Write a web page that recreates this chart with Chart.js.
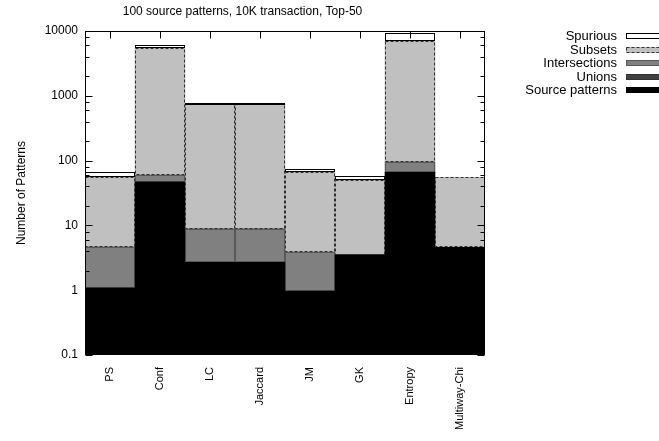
<!DOCTYPE html>
<html><head><meta charset="utf-8">
<script src="https://cdn.jsdelivr.net/npm/chart.js@4/dist/chart.umd.min.js"></script>
<style>html,body{margin:0;padding:0;background:#fff}</style>
</head><body>
<canvas id="c" width="659" height="441"></canvas>
<script>
// ---- data ----
const categories = ['PS', 'Conf', 'LC', 'Jaccard', 'JM', 'GK', 'Entropy', 'Multiway-Chi'];
const sourcePatterns = [1.09, 47, 2.7, 2.7, 0.97, 3.55, 66, 4.6];
const unions = [0, 0, 0, 0, 0, 0, 0, 0];
const intersections = [3.6, 13, 6.2, 6.2, 2.9, 0, 30, 0];
const subsets = [51, 5340, 731, 731, 63.5, 46.5, 6900, 50.5];
const spurious = [10, 680, 10, 10, 6.5, 8.3, 2200, 0];
const yTickValues = [0.1, 1, 10, 100, 1000, 10000];
const yTickLabels = ['0.1', '1', '10', '100', '1000', '10000'];
const yMinorFactors = [2, 4, 6, 8];
const chartTitle = '100 source patterns, 10K transaction, Top-50';
const yTitle = 'Number of Patterns';

const FONT = '"Liberation Sans", Arial, Helvetica, sans-serif';

const styles = [
  { label: 'Source patterns', fill: '#000000', stroke: '#000000', dash: [] },
  { label: 'Unions', fill: '#404040', stroke: '#202020', dash: [1, 1] },
  { label: 'Intersections', fill: '#808080', stroke: '#303030', dash: [1, 1] },
  { label: 'Subsets', fill: '#c0c0c0', stroke: '#303030', dash: [3, 2] },
  { label: 'Spurious', fill: '#ffffff', stroke: '#000000', dash: [] }
];
const seriesValues = [sourcePatterns, unions, intersections, subsets, spurious];

const datasets = seriesValues.map((vals, i) => ({
  label: styles[i].label,
  data: vals,
  backgroundColor: styles[i].fill,
  borderWidth: 0,
  categoryPercentage: 1.0,
  barPercentage: 1.0,
  _stroke: styles[i].stroke,
  _dash: styles[i].dash
}));

const decorPlugin = {
  id: 'decor',
  afterDatasetsDraw(chart) {
    const ctx = chart.ctx;
    chart.data.datasets.forEach((ds, di) => {
      const meta = chart.getDatasetMeta(di);
      meta.data.forEach((el, i) => {
        const v = ds.data[i];
        if (!(v > 0)) return;
        const p = el.getProps(['x', 'y', 'base', 'width'], true);
        const l = Math.round(p.x - p.width / 2) + 0.5;
        const r = Math.round(p.x + p.width / 2) - 0.5;
        const t = Math.round(Math.min(p.y, p.base)) + 0.5;
        const b = Math.round(Math.max(p.y, p.base)) - 0.5;
        ctx.save();
        ctx.strokeStyle = ds._stroke;
        ctx.lineWidth = 1;
        ctx.setLineDash(ds._dash);
        ctx.strokeRect(l, t, r - l, b - t);
        ctx.restore();
      });
    });
  },
  afterDraw(chart) {
    const ctx = chart.ctx;
    const a = chart.chartArea;
    const ys = chart.scales.y, xs = chart.scales.x;
    ctx.save();
    ctx.strokeStyle = '#000';
    ctx.lineWidth = 1;
    ctx.setLineDash([]);
    const L = Math.round(a.left) + 0.5, R = Math.round(a.right) - 0.5;
    const T = Math.round(a.top) + 0.5, B = Math.round(a.bottom) - 0.5;
    ctx.strokeRect(L, T, R - L, B - T);
    ctx.beginPath();
    yTickValues.forEach((v, k) => {
      const py = Math.round(ys.getPixelForValue(v)) + 0.5;
      ctx.moveTo(L, py); ctx.lineTo(L + 7, py);
      ctx.moveTo(R, py); ctx.lineTo(R - 7, py);
      if (k < yTickValues.length - 1) {
        yMinorFactors.forEach(f => {
          const my = Math.round(ys.getPixelForValue(v * f)) + 0.5;
          ctx.moveTo(L, my); ctx.lineTo(L + 4, my);
          ctx.moveTo(R, my); ctx.lineTo(R - 4, my);
        });
      }
    });
    categories.forEach((c, i) => {
      const px = Math.round(xs.getPixelForValue(i)) + 0.5;
      ctx.moveTo(px, T); ctx.lineTo(px, T + 7);
      ctx.moveTo(px, B); ctx.lineTo(px, B - 7);
    });
    ctx.stroke();

    // legend: right-aligned text with the swatch on its right
    ctx.font = '13px ' + FONT;
    ctx.textAlign = 'right';
    ctx.textBaseline = 'middle';
    const order = [4, 3, 2, 1, 0];
    order.forEach((di, row) => {
      const ds = chart.data.datasets[di];
      const cy = Math.round(36 + row * 13.5);
      ctx.fillStyle = '#000';
      ctx.fillText(ds.label, 617, cy);
      ctx.fillStyle = ds.backgroundColor;
      ctx.fillRect(626, cy - 3, 34, 6);
      ctx.strokeStyle = ds._stroke;
      ctx.setLineDash(ds._dash);
      ctx.strokeRect(626.5, cy - 3 + 0.5, 34, 5);
    });
    ctx.restore();
  }
};

new Chart(document.getElementById('c'), {
  type: 'bar',
  data: { labels: categories, datasets },
  options: {
    responsive: false,
    animation: false,
    devicePixelRatio: 1,
    layout: { padding: { left: 0, right: 174, top: 0, bottom: 0 } },
    plugins: {
      legend: { display: false },
      tooltip: { enabled: false },
      title: {
        display: true,
        text: chartTitle,
        color: '#000',
        font: { family: FONT, size: 12, weight: 'normal' },
        padding: { top: 4, bottom: 12.6 }
      }
    },
    scales: {
      x: {
        stacked: true,
        grid: { display: false, drawTicks: false },
        border: { display: false },
        ticks: {
          color: '#000',
          font: { family: FONT, size: 11 },
          minRotation: 90, maxRotation: 90,
          padding: 12,
          autoSkip: false
        },
        afterFit(s) { s.height = 86; }
      },
      y: {
        type: 'logarithmic',
        stacked: true,
        min: 0.1,
        max: 10000,
        grid: { display: false, drawTicks: false },
        border: { display: false },
        afterBuildTicks(s) { s.ticks = yTickValues.map(v => ({ value: v, major: true })); },
        ticks: {
          color: '#000',
          font: { family: FONT, size: 12 },
          padding: 7,
          callback: (v) => { const k = yTickValues.indexOf(v); return k >= 0 ? yTickLabels[k] : ''; }
        },
        title: {
          display: true,
          text: yTitle,
          color: '#000',
          font: { family: FONT, size: 12 },
          padding: { top: 14, bottom: 0 }
        },
        afterFit(s) { s.width = 85; }
      }
    }
  },
  plugins: [decorPlugin]
});
</script>
</body></html>
